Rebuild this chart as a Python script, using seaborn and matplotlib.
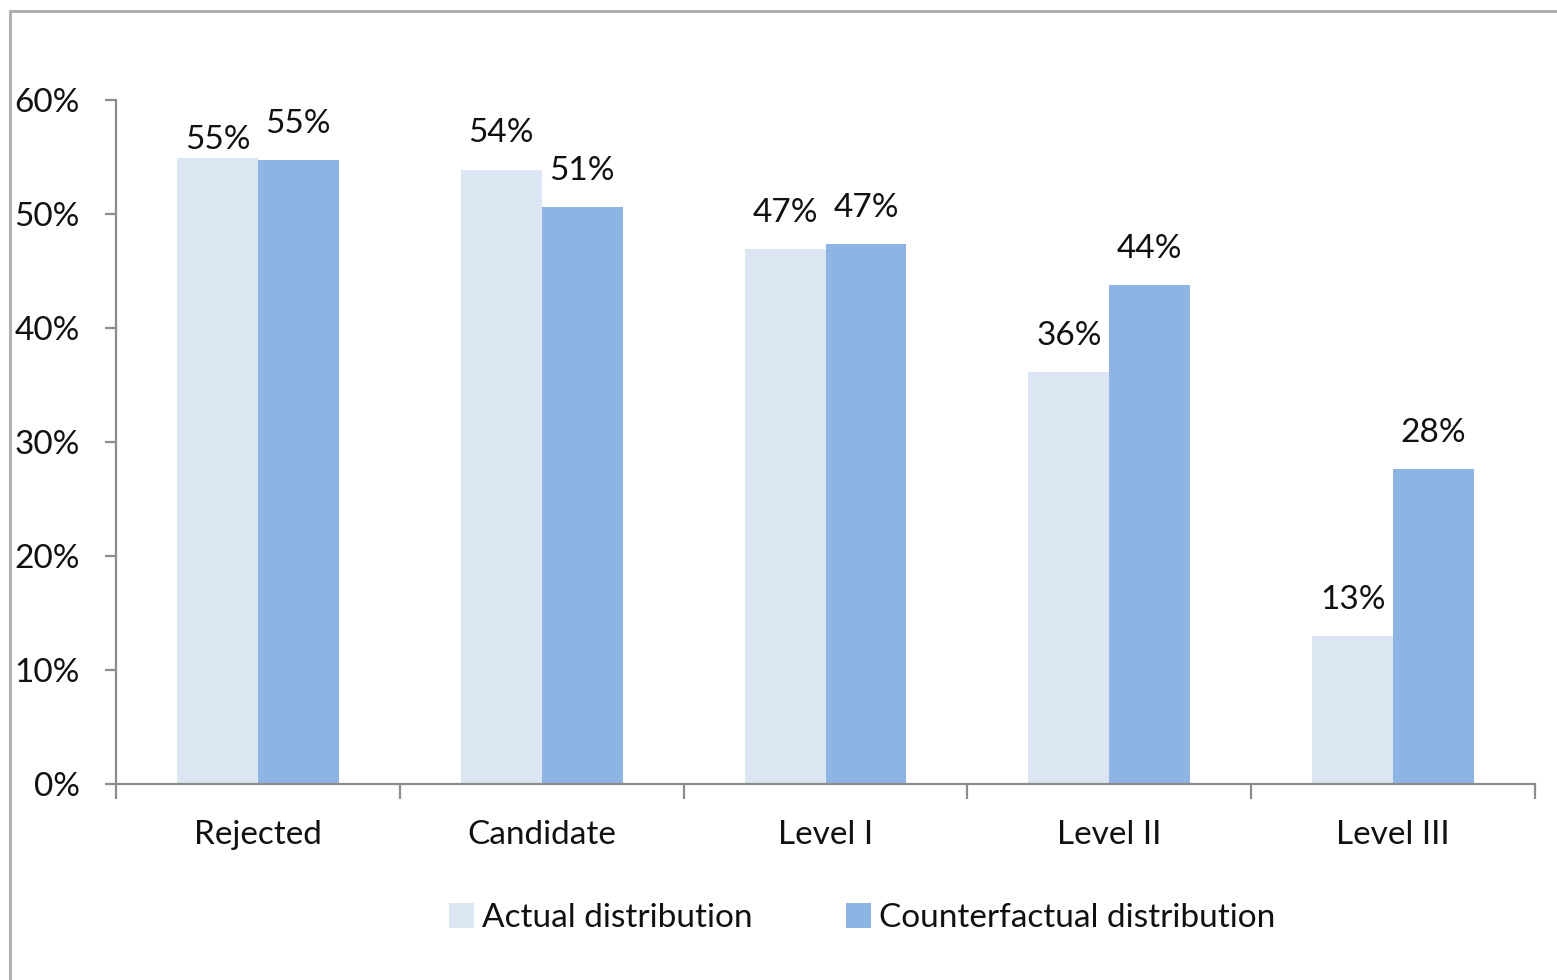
import matplotlib
matplotlib.use("Agg")
import matplotlib.pyplot as plt
import seaborn as sns
import pandas as pd
from matplotlib.lines import Line2D
from matplotlib.patches import Patch

categories = ["Rejected", "Candidate", "Level I", "Level II", "Level III"]
actual = [54.9, 53.9, 46.9, 36.1, 13.0]
counterfactual = [54.7, 50.6, 47.4, 43.8, 27.6]
actual_labels = ["55%", "54%", "47%", "36%", "13%"]
counter_labels = ["55%", "51%", "47%", "44%", "28%"]
series_names = ["Actual distribution", "Counterfactual distribution"]
colors = ["#DCE6F2", "#8EB4E3"]
yticks = [0, 10, 20, 30, 40, 50, 60]
ytick_labels = ["0%", "10%", "20%", "30%", "40%", "50%", "60%"]

sns.set_theme(style="white")
plt.rcParams["font.family"] = ["Lato", "DejaVu Sans"]

df = pd.DataFrame({
    "category": categories * 2,
    "value": actual + counterfactual,
    "series": [series_names[0]] * 5 + [series_names[1]] * 5,
})

W, H = 1557, 980
fig = plt.figure(figsize=(W / 100, H / 100), dpi=100)
ax = fig.add_axes([116 / W, 1 - 784 / H, (1535 - 116) / W, (784 - 100) / H])

sns.barplot(data=df, x="category", y="value", hue="series", order=categories,
            hue_order=series_names, palette=colors, width=0.57, gap=0,
            saturation=1, ax=ax, legend=False, edgecolor="none", linewidth=0)

ax.set_xlim(-0.5, 4.5)
ax.set_ylim(0, 60)
ax.set_xlabel("")
ax.set_ylabel("")

fs = 24
txt_color = "#111111"
axis_color = "#8C8C8C"
for s in ["top", "right"]:
    ax.spines[s].set_visible(False)
for s in ["left", "bottom"]:
    ax.spines[s].set_color(axis_color)
    ax.spines[s].set_linewidth(1.6)

ax.set_yticks(yticks)
ax.set_yticklabels(ytick_labels)
ax.tick_params(axis="y", which="major", left=True, length=8, width=1.6,
               color=axis_color, pad=18, labelsize=fs, labelcolor=txt_color)

ax.set_xticks(range(len(categories)))
ax.set_xticklabels(categories)
ax.tick_params(axis="x", which="major", bottom=False, length=0, pad=26,
               labelsize=fs, labelcolor=txt_color)
ax.set_xticks([i - 0.5 for i in range(len(categories) + 1)], minor=True)
ax.tick_params(axis="x", which="minor", bottom=True, length=11, width=1.6,
               color=axis_color)

# value labels (the first actual label sits closer to its bar, as in the original)
for si, (cont, labels) in enumerate(zip(ax.containers, [actual_labels, counter_labels])):
    for bi, (bar, lab) in enumerate(zip(cont, labels)):
        x = bar.get_x() + bar.get_width() / 2
        y = bar.get_height()
        off = 13 if (si == 0 and bi == 0) else 26
        ax.annotate(lab, (x, y), xytext=(0, off), textcoords="offset points",
                    ha="center", va="center", fontsize=fs, color=txt_color)

handles = [Patch(facecolor=c, edgecolor="none") for c in colors]
fig.legend(handles, series_names, loc="center", bbox_to_anchor=(862 / W, 1 - 918 / H),
           ncol=2, frameon=False, fontsize=fs, handlelength=0.75, handleheight=0.75,
           handletextpad=0.25, columnspacing=2.8, labelcolor=txt_color)

# outer frame (top and left edges visible)
frame_color = "#B0B0B0"
fig.add_artist(Line2D([10 / W, 1.0], [1 - 11 / H, 1 - 11 / H], transform=fig.transFigure,
                      color=frame_color, linewidth=2.2))
fig.add_artist(Line2D([10 / W, 10 / W], [0.0, 1 - 11 / H], transform=fig.transFigure,
                      color=frame_color, linewidth=2.2))

fig.savefig("out.png", dpi=100, facecolor="white")
